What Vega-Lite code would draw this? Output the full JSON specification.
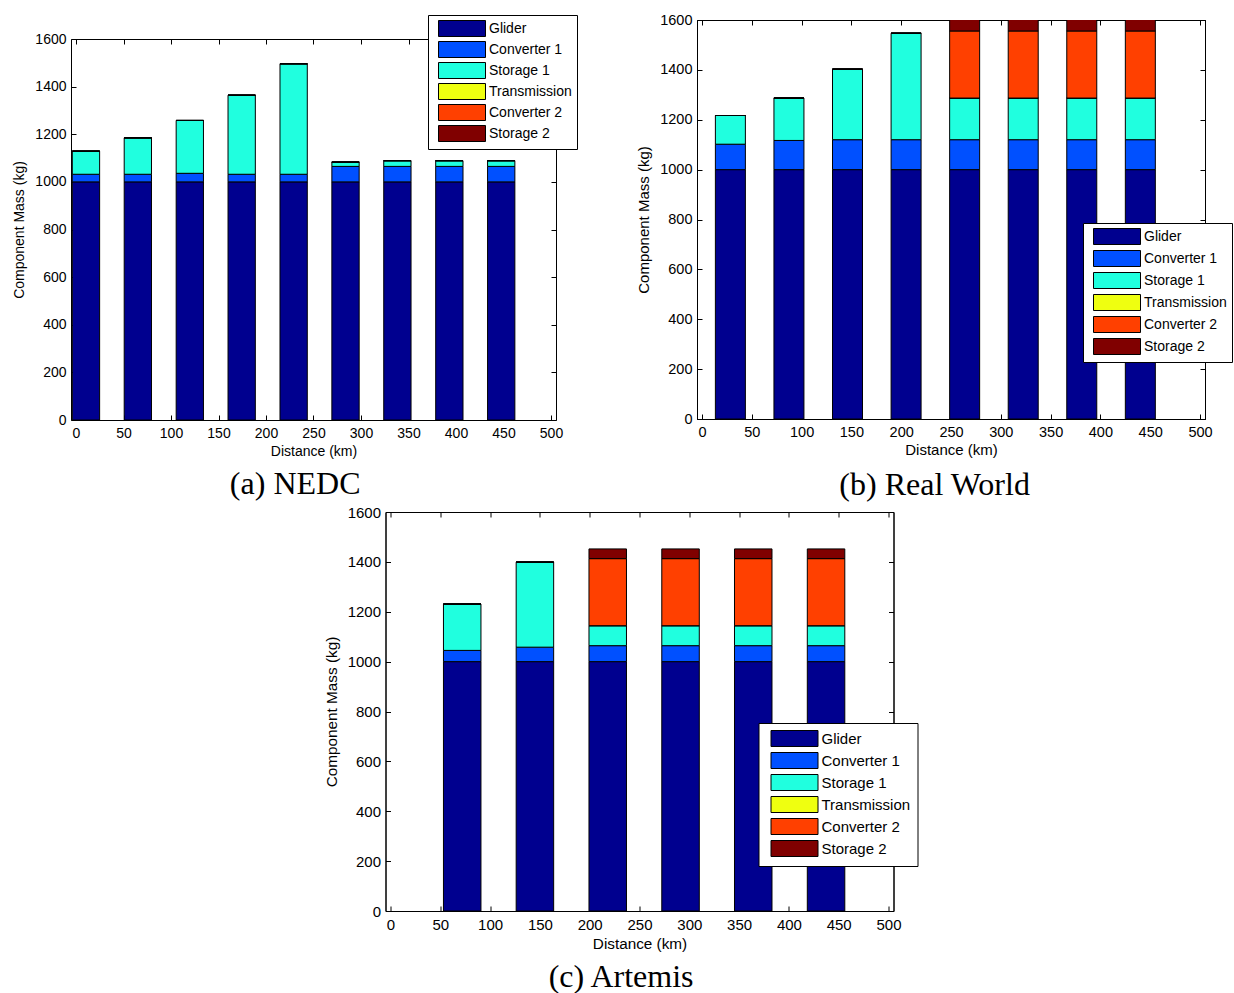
{
  "$schema": "https://vega.github.io/schema/vega-lite/v6.json",
  "autosize": {"type": "pad"},
  "padding": {"left": 12, "top": 11, "right": 0, "bottom": 0},
  "background": "white",
  "center": true,
  "spacing": 3,
  "resolve": {"scale": {"color": "independent"}, "legend": {"color": "independent"}},
  "datasets": {
    "a": [
      {"d": 10.5, "part": "Glider", "k": 1, "kg": 1000}, {"d": 10.5, "part": "Converter 1", "k": 2, "kg": 32}, {"d": 10.5, "part": "Storage 1", "k": 3, "kg": 97}, {"d": 10.5, "part": "Transmission", "k": 4, "kg": 0}, {"d": 10.5, "part": "Converter 2", "k": 5, "kg": 0}, {"d": 10.5, "part": "Storage 2", "k": 6, "kg": 0},
      {"d": 65.1, "part": "Glider", "k": 1, "kg": 1000}, {"d": 65.1, "part": "Converter 1", "k": 2, "kg": 32}, {"d": 65.1, "part": "Storage 1", "k": 3, "kg": 153}, {"d": 65.1, "part": "Transmission", "k": 4, "kg": 0}, {"d": 65.1, "part": "Converter 2", "k": 5, "kg": 0}, {"d": 65.1, "part": "Storage 2", "k": 6, "kg": 0},
      {"d": 119.8, "part": "Glider", "k": 1, "kg": 1000}, {"d": 119.8, "part": "Converter 1", "k": 2, "kg": 36}, {"d": 119.8, "part": "Storage 1", "k": 3, "kg": 222}, {"d": 119.8, "part": "Transmission", "k": 4, "kg": 0}, {"d": 119.8, "part": "Converter 2", "k": 5, "kg": 0}, {"d": 119.8, "part": "Storage 2", "k": 6, "kg": 0},
      {"d": 174.4, "part": "Glider", "k": 1, "kg": 1000}, {"d": 174.4, "part": "Converter 1", "k": 2, "kg": 32}, {"d": 174.4, "part": "Storage 1", "k": 3, "kg": 332}, {"d": 174.4, "part": "Transmission", "k": 4, "kg": 0}, {"d": 174.4, "part": "Converter 2", "k": 5, "kg": 0}, {"d": 174.4, "part": "Storage 2", "k": 6, "kg": 0},
      {"d": 229.1, "part": "Glider", "k": 1, "kg": 1000}, {"d": 229.1, "part": "Converter 1", "k": 2, "kg": 32}, {"d": 229.1, "part": "Storage 1", "k": 3, "kg": 464}, {"d": 229.1, "part": "Transmission", "k": 4, "kg": 0}, {"d": 229.1, "part": "Converter 2", "k": 5, "kg": 0}, {"d": 229.1, "part": "Storage 2", "k": 6, "kg": 0},
      {"d": 283.7, "part": "Glider", "k": 1, "kg": 1000}, {"d": 283.7, "part": "Converter 1", "k": 2, "kg": 65}, {"d": 283.7, "part": "Storage 1", "k": 3, "kg": 18}, {"d": 283.7, "part": "Transmission", "k": 4, "kg": 0}, {"d": 283.7, "part": "Converter 2", "k": 5, "kg": 0}, {"d": 283.7, "part": "Storage 2", "k": 6, "kg": 0},
      {"d": 338.3, "part": "Glider", "k": 1, "kg": 1000}, {"d": 338.3, "part": "Converter 1", "k": 2, "kg": 65}, {"d": 338.3, "part": "Storage 1", "k": 3, "kg": 24}, {"d": 338.3, "part": "Transmission", "k": 4, "kg": 0}, {"d": 338.3, "part": "Converter 2", "k": 5, "kg": 0}, {"d": 338.3, "part": "Storage 2", "k": 6, "kg": 0},
      {"d": 393.0, "part": "Glider", "k": 1, "kg": 1000}, {"d": 393.0, "part": "Converter 1", "k": 2, "kg": 65}, {"d": 393.0, "part": "Storage 1", "k": 3, "kg": 24}, {"d": 393.0, "part": "Transmission", "k": 4, "kg": 0}, {"d": 393.0, "part": "Converter 2", "k": 5, "kg": 0}, {"d": 393.0, "part": "Storage 2", "k": 6, "kg": 0},
      {"d": 447.6, "part": "Glider", "k": 1, "kg": 1000}, {"d": 447.6, "part": "Converter 1", "k": 2, "kg": 65}, {"d": 447.6, "part": "Storage 1", "k": 3, "kg": 24}, {"d": 447.6, "part": "Transmission", "k": 4, "kg": 0}, {"d": 447.6, "part": "Converter 2", "k": 5, "kg": 0}, {"d": 447.6, "part": "Storage 2", "k": 6, "kg": 0}
    ],
    "b": [
      {"d": 28.5, "part": "Glider", "k": 1, "kg": 1000}, {"d": 28.5, "part": "Converter 1", "k": 2, "kg": 102}, {"d": 28.5, "part": "Storage 1", "k": 3, "kg": 115}, {"d": 28.5, "part": "Transmission", "k": 4, "kg": 0}, {"d": 28.5, "part": "Converter 2", "k": 5, "kg": 0}, {"d": 28.5, "part": "Storage 2", "k": 6, "kg": 0},
      {"d": 87.3, "part": "Glider", "k": 1, "kg": 1000}, {"d": 87.3, "part": "Converter 1", "k": 2, "kg": 117}, {"d": 87.3, "part": "Storage 1", "k": 3, "kg": 170}, {"d": 87.3, "part": "Transmission", "k": 4, "kg": 0}, {"d": 87.3, "part": "Converter 2", "k": 5, "kg": 0}, {"d": 87.3, "part": "Storage 2", "k": 6, "kg": 0},
      {"d": 146.1, "part": "Glider", "k": 1, "kg": 1000}, {"d": 146.1, "part": "Converter 1", "k": 2, "kg": 120}, {"d": 146.1, "part": "Storage 1", "k": 3, "kg": 283}, {"d": 146.1, "part": "Transmission", "k": 4, "kg": 0}, {"d": 146.1, "part": "Converter 2", "k": 5, "kg": 0}, {"d": 146.1, "part": "Storage 2", "k": 6, "kg": 0},
      {"d": 204.9, "part": "Glider", "k": 1, "kg": 1000}, {"d": 204.9, "part": "Converter 1", "k": 2, "kg": 120}, {"d": 204.9, "part": "Storage 1", "k": 3, "kg": 427}, {"d": 204.9, "part": "Transmission", "k": 4, "kg": 0}, {"d": 204.9, "part": "Converter 2", "k": 5, "kg": 0}, {"d": 204.9, "part": "Storage 2", "k": 6, "kg": 0},
      {"d": 263.7, "part": "Glider", "k": 1, "kg": 1000}, {"d": 263.7, "part": "Converter 1", "k": 2, "kg": 120}, {"d": 263.7, "part": "Storage 1", "k": 3, "kg": 167}, {"d": 263.7, "part": "Transmission", "k": 4, "kg": 0}, {"d": 263.7, "part": "Converter 2", "k": 5, "kg": 269}, {"d": 263.7, "part": "Storage 2", "k": 6, "kg": 50},
      {"d": 322.5, "part": "Glider", "k": 1, "kg": 1000}, {"d": 322.5, "part": "Converter 1", "k": 2, "kg": 120}, {"d": 322.5, "part": "Storage 1", "k": 3, "kg": 167}, {"d": 322.5, "part": "Transmission", "k": 4, "kg": 0}, {"d": 322.5, "part": "Converter 2", "k": 5, "kg": 269}, {"d": 322.5, "part": "Storage 2", "k": 6, "kg": 50},
      {"d": 381.3, "part": "Glider", "k": 1, "kg": 1000}, {"d": 381.3, "part": "Converter 1", "k": 2, "kg": 120}, {"d": 381.3, "part": "Storage 1", "k": 3, "kg": 167}, {"d": 381.3, "part": "Transmission", "k": 4, "kg": 0}, {"d": 381.3, "part": "Converter 2", "k": 5, "kg": 269}, {"d": 381.3, "part": "Storage 2", "k": 6, "kg": 50},
      {"d": 440.1, "part": "Glider", "k": 1, "kg": 1000}, {"d": 440.1, "part": "Converter 1", "k": 2, "kg": 120}, {"d": 440.1, "part": "Storage 1", "k": 3, "kg": 167}, {"d": 440.1, "part": "Transmission", "k": 4, "kg": 0}, {"d": 440.1, "part": "Converter 2", "k": 5, "kg": 269}, {"d": 440.1, "part": "Storage 2", "k": 6, "kg": 50}
    ],
    "c": [
      {"d": 72.0, "part": "Glider", "k": 1, "kg": 1000}, {"d": 72.0, "part": "Converter 1", "k": 2, "kg": 45}, {"d": 72.0, "part": "Storage 1", "k": 3, "kg": 186}, {"d": 72.0, "part": "Transmission", "k": 4, "kg": 0}, {"d": 72.0, "part": "Converter 2", "k": 5, "kg": 0}, {"d": 72.0, "part": "Storage 2", "k": 6, "kg": 0},
      {"d": 145.0, "part": "Glider", "k": 1, "kg": 1000}, {"d": 145.0, "part": "Converter 1", "k": 2, "kg": 58}, {"d": 145.0, "part": "Storage 1", "k": 3, "kg": 341}, {"d": 145.0, "part": "Transmission", "k": 4, "kg": 0}, {"d": 145.0, "part": "Converter 2", "k": 5, "kg": 0}, {"d": 145.0, "part": "Storage 2", "k": 6, "kg": 0},
      {"d": 218.1, "part": "Glider", "k": 1, "kg": 1000}, {"d": 218.1, "part": "Converter 1", "k": 2, "kg": 64}, {"d": 218.1, "part": "Storage 1", "k": 3, "kg": 80}, {"d": 218.1, "part": "Transmission", "k": 4, "kg": 0}, {"d": 218.1, "part": "Converter 2", "k": 5, "kg": 269}, {"d": 218.1, "part": "Storage 2", "k": 6, "kg": 39},
      {"d": 291.2, "part": "Glider", "k": 1, "kg": 1000}, {"d": 291.2, "part": "Converter 1", "k": 2, "kg": 64}, {"d": 291.2, "part": "Storage 1", "k": 3, "kg": 80}, {"d": 291.2, "part": "Transmission", "k": 4, "kg": 0}, {"d": 291.2, "part": "Converter 2", "k": 5, "kg": 269}, {"d": 291.2, "part": "Storage 2", "k": 6, "kg": 39},
      {"d": 364.2, "part": "Glider", "k": 1, "kg": 1000}, {"d": 364.2, "part": "Converter 1", "k": 2, "kg": 64}, {"d": 364.2, "part": "Storage 1", "k": 3, "kg": 80}, {"d": 364.2, "part": "Transmission", "k": 4, "kg": 0}, {"d": 364.2, "part": "Converter 2", "k": 5, "kg": 269}, {"d": 364.2, "part": "Storage 2", "k": 6, "kg": 39},
      {"d": 437.3, "part": "Glider", "k": 1, "kg": 1000}, {"d": 437.3, "part": "Converter 1", "k": 2, "kg": 64}, {"d": 437.3, "part": "Storage 1", "k": 3, "kg": 80}, {"d": 437.3, "part": "Transmission", "k": 4, "kg": 0}, {"d": 437.3, "part": "Converter 2", "k": 5, "kg": 269}, {"d": 437.3, "part": "Storage 2", "k": 6, "kg": 39}
    ]
  },
  "vconcat": [
    {
      "spacing": 58,
      "resolve": {"scale": {"color": "independent"}, "legend": {"color": "independent"}},
      "hconcat": [
        {
          "width": 485, "height": 400,
          "view": {"stroke": null},
          "data": {"name": "a"},
          "title": {"text": "(a) NEDC", "offset": 11},
          "layer": [
            {
              "mark": {"type": "bar", "orient": "vertical", "width": 27.3, "stroke": "black", "strokeWidth": 1, "clip": true},
              "encoding": {
                "x": {"field": "d", "type": "quantitative", "scale": {"domain": [0, 500], "nice": false, "zero": false},
                      "axis": {"values": [0, 50, 100, 150, 200, 250, 300, 350, 400, 450, 500], "title": "Distance (km)"}},
                "y": {"field": "kg", "type": "quantitative", "stack": "zero", "scale": {"domain": [0, 1600], "nice": false, "range": [400, 19]},
                      "axis": {"values": [0, 200, 400, 600, 800, 1000, 1200, 1400, 1600], "title": "Component Mass (kg)"}},
                "color": {"field": "part", "type": "nominal",
                          "scale": {"domain": ["Glider", "Converter 1", "Storage 1", "Transmission", "Converter 2", "Storage 2"],
                                    "range": ["#00008F", "#0050FF", "#20FFDF", "#EFFF10", "#FF4000", "#800000"]},
                          "legend": {"legendX": 357, "legendY": -5, "rowPadding": 0}},
                "order": {"field": "k", "type": "quantitative"}
              }
            },
            {
              "mark": {"type": "point", "opacity": 0},
              "encoding": {
                "x": {"field": "d", "type": "quantitative", "scale": {"domain": [0, 500], "nice": false, "zero": false},
                      "axis": {"orient": "top", "offset": -19, "values": [0, 50, 100, 150, 200, 250, 300, 350, 400, 450, 500], "labels": false, "title": null}},
                "y": {"field": "kg", "type": "quantitative", "scale": {"domain": [0, 1600], "nice": false, "range": [400, 19]},
                      "axis": {"orient": "right", "values": [0, 200, 400, 600, 800, 1000, 1200, 1400, 1600], "labels": false, "title": null}}
              }
            }
          ],
          "resolve": {"axis": {"x": "independent", "y": "independent"}}
        },
        {
          "width": 508, "height": 399,
          "data": {"name": "b"},
          "title": {"text": "(b) Real World", "offset": 12},
          "layer": [
            {
              "mark": {"type": "bar", "orient": "vertical", "width": 30, "stroke": "black", "strokeWidth": 1, "clip": true},
              "encoding": {
                "x": {"field": "d", "type": "quantitative", "scale": {"domain": [0, 500], "nice": false, "zero": false},
                      "axis": {"values": [0, 50, 100, 150, 200, 250, 300, 350, 400, 450, 500], "title": "Distance (km)", "labelFontSize": 14.5, "titleFontSize": 15}},
                "y": {"field": "kg", "type": "quantitative", "stack": "zero", "scale": {"domain": [0, 1600], "nice": false},
                      "axis": {"values": [0, 200, 400, 600, 800, 1000, 1200, 1400, 1600], "title": "Component Mass (kg)", "labelFontSize": 14.5, "titleFontSize": 15}},
                "color": {"field": "part", "type": "nominal",
                          "scale": {"domain": ["Glider", "Converter 1", "Storage 1", "Transmission", "Converter 2", "Storage 2"],
                                    "range": ["#00008F", "#0050FF", "#20FFDF", "#EFFF10", "#FF4000", "#800000"]},
                          "legend": {"legendX": 386, "legendY": 203, "rowPadding": 1}},
                "order": {"field": "k", "type": "quantitative"}
              }
            },
            {
              "mark": {"type": "point", "opacity": 0},
              "encoding": {
                "x": {"field": "d", "type": "quantitative", "scale": {"domain": [0, 500], "nice": false, "zero": false},
                      "axis": {"orient": "top", "values": [0, 50, 100, 150, 200, 250, 300, 350, 400, 450, 500], "labels": false, "title": null}},
                "y": {"field": "kg", "type": "quantitative", "scale": {"domain": [0, 1600], "nice": false},
                      "axis": {"orient": "right", "values": [0, 200, 400, 600, 800, 1000, 1200, 1400, 1600], "labels": false, "title": null}}
              }
            }
          ],
          "resolve": {"axis": {"x": "independent", "y": "independent"}}
        }
      ]
    },
    {
      "width": 508, "height": 399,
      "data": {"name": "c"},
      "title": {"text": "(c) Artemis", "offset": 11},
      "layer": [
        {
          "mark": {"type": "bar", "orient": "vertical", "width": 37.5, "stroke": "black", "strokeWidth": 1, "clip": true},
          "encoding": {
            "x": {"field": "d", "type": "quantitative", "scale": {"domain": [0, 500], "nice": false, "zero": false},
                  "axis": {"values": [0, 50, 100, 150, 200, 250, 300, 350, 400, 450, 500], "title": "Distance (km)", "labelFontSize": 15, "titleFontSize": 15.3}},
            "y": {"field": "kg", "type": "quantitative", "stack": "zero", "scale": {"domain": [0, 1600], "nice": false},
                  "axis": {"values": [0, 200, 400, 600, 800, 1000, 1200, 1400, 1600], "title": "Component Mass (kg)", "labelFontSize": 15, "titleFontSize": 15.3, "titlePadding": 8}},
            "color": {"field": "part", "type": "nominal",
                      "scale": {"domain": ["Glider", "Converter 1", "Storage 1", "Transmission", "Converter 2", "Storage 2"],
                                "range": ["#00008F", "#0050FF", "#20FFDF", "#EFFF10", "#FF4000", "#800000"]},
                      "legend": {"legendX": 373, "legendY": 211, "rowPadding": 1, "labelFontSize": 15, "padding": 7}},
            "order": {"field": "k", "type": "quantitative"}
          }
        },
        {
          "mark": {"type": "point", "opacity": 0},
          "encoding": {
            "x": {"field": "d", "type": "quantitative", "scale": {"domain": [0, 500], "nice": false, "zero": false},
                  "axis": {"orient": "top", "values": [0, 50, 100, 150, 200, 250, 300, 350, 400, 450, 500], "labels": false, "title": null}},
            "y": {"field": "kg", "type": "quantitative", "scale": {"domain": [0, 1600], "nice": false},
                  "axis": {"orient": "right", "values": [0, 200, 400, 600, 800, 1000, 1200, 1400, 1600], "labels": false, "title": null}}
          }
        }
      ],
      "resolve": {"axis": {"x": "independent", "y": "independent"}}
    }
  ],
  "config": {
    "font": "Liberation Sans",
    "view": {"stroke": "black", "strokeWidth": 1},
    "axis": {
      "grid": false, "domainColor": "black", "tickColor": "black", "tickSize": -5, "format": "d",
      "labelFont": "Liberation Sans", "labelFontSize": 14, "labelColor": "black",
      "titleFont": "Liberation Sans", "titleFontSize": 14, "titleFontWeight": "normal", "titleColor": "black",
      "labelFlush": false, "labelOverlap": false
    },
    "axisBottom": {"labelPadding": 11, "titlePadding": 4},
    "axisLeft": {"labelPadding": 10, "titlePadding": 8},
    "legend": {
      "orient": "none", "direction": "vertical", "title": null,
      "symbolType": "M-0.375,-1H5.5V1H-0.375Z", "symbolSize": 256,
      "symbolStrokeColor": "black", "symbolStrokeWidth": 1, "symbolOpacity": 1,
      "labelFont": "Liberation Sans", "labelFontSize": 14, "labelColor": "black", "labelOffset": 39, "labelLimit": 200,
      "padding": 5, "fillColor": "white", "strokeColor": "black"
    },
    "title": {
      "font": "Liberation Serif", "fontSize": 32, "fontWeight": "normal", "color": "black",
      "orient": "bottom", "anchor": "middle", "baseline": "top", "offset": 8, "frame": "bounds"
    }
  }
}
